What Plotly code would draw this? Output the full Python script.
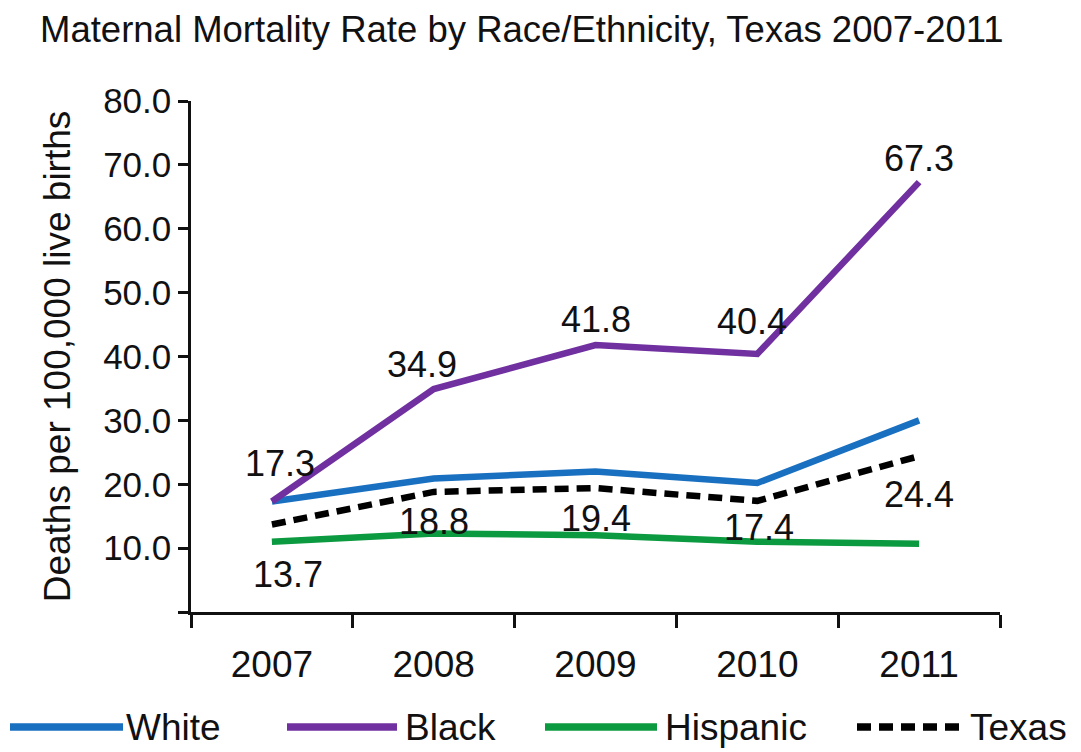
import plotly.graph_objects as go

years = ["2007", "2008", "2009", "2010", "2011"]
white = [17.3, 20.9, 22.0, 20.2, 30.0]
black = [17.3, 34.9, 41.8, 40.4, 67.3]
hispanic = [11.0, 12.3, 12.0, 11.0, 10.7]
texas = [13.7, 18.8, 19.4, 17.4, 24.4]
y_ticks = [0, 10, 20, 30, 40, 50, 60, 70, 80]
y_ticktext = ["", "10.0", "20.0", "30.0", "40.0", "50.0", "60.0", "70.0", "80.0"]

series_names = ["White", "Black", "Hispanic", "Texas"]
series_data = [white, black, hispanic, texas]
series_colors = ["#1a70c0", "#7030a0", "#0c9a40", "#000000"]
series_dash = ["solid", "solid", "solid", "14px,8px"]

FONT = "Liberation Sans, Arial, sans-serif"
xpos = list(range(len(years)))

# page has an 8px body margin; work in window pixels and offset
OFF = 8
W, H = 1081 - OFF, 752 - OFF

fig = go.Figure()
for name, data, color, dash in zip(series_names, series_data, series_colors, series_dash):
    fig.add_trace(go.Scatter(
        x=xpos, y=data, mode="lines", name=name,
        line=dict(color=color, width=6.5, dash=dash),
        showlegend=False,
    ))

# data labels
black_shift = [38, 25, 26, 32, 24]
black_xshift = [8, -12, 0, -5, 0]
texas_shift = [-50, -30, -30, -27, -38]
texas_xshift = [16, 0, 0, 2, 0]
annotations = []
for i, v in enumerate(black):
    annotations.append(dict(x=xpos[i], y=v, text=f"{v:.1f}", showarrow=False,
                            yshift=black_shift[i], xshift=black_xshift[i],
                            font=dict(family=FONT, size=36, color="#111111")))
for i, v in enumerate(texas):
    annotations.append(dict(x=xpos[i], y=v, text=f"{v:.1f}", showarrow=False,
                            yshift=texas_shift[i], xshift=texas_xshift[i],
                            font=dict(family=FONT, size=36, color="#111111")))

# plot area in window pixels: x 191..1000, y 101..612
ml, mt = 191 - OFF, 101 - OFF
mr = W - (1000 - OFF)
mb = H - (612 - OFF)
pw, ph = W - ml - mr, H - mt - mb

def px_to_paper_x(px):
    return (px - OFF - ml) / pw

def px_to_paper_y(py):
    return (H - mb - (py - OFF)) / ph

# custom legend (window pixel positions)
legend_line_x = [(10, 123), (287, 397), (545, 657), (857, 962)]
legend_text_x = [124, 403, 663, 968]
legend_y_px = 727
shapes = []
for (x0, x1), color, dash in zip(legend_line_x, series_colors, series_dash):
    shapes.append(dict(type="line", xref="paper", yref="paper",
                       x0=px_to_paper_x(x0), x1=px_to_paper_x(x1),
                       y0=px_to_paper_y(legend_y_px), y1=px_to_paper_y(legend_y_px),
                       line=dict(color=color, width=7.5,
                                 dash="14px,8px" if dash != "solid" else "solid")))
for name, tx in zip(series_names, legend_text_x):
    annotations.append(dict(xref="paper", yref="paper", x=px_to_paper_x(tx),
                            y=px_to_paper_y(legend_y_px), xanchor="left", yanchor="middle",
                            text=name, showarrow=False,
                            font=dict(family=FONT, size=37, color="#111111")))

fig.update_layout(
    width=W, height=H,
    margin=dict(l=ml, r=mr, t=mt, b=mb, autoexpand=False),
    paper_bgcolor="white", plot_bgcolor="white",
    title=dict(text="Maternal Mortality Rate by Race/Ethnicity, Texas 2007-2011",
               x=(40 - OFF) / W, xanchor="left", xref="container",
               y=1 - 21 / H, yanchor="middle", yref="container",
               font=dict(family=FONT, size=36.5, color="#111111")),
    annotations=annotations,
    shapes=shapes,
    font=dict(family=FONT, color="#111111"),
)
fig.update_xaxes(
    range=[-0.5, len(years) - 0.5], tickmode="array", tickvals=xpos, ticktext=years,
    ticks="", showline=True, linecolor="#111111", linewidth=2.5,
    showgrid=False, zeroline=False, ticklabelstandoff=18,
    minor=dict(tickmode="array", tickvals=[i - 0.5 for i in range(len(years) + 1)],
               ticks="outside", ticklen=13, tickwidth=2.5, tickcolor="#111111", showgrid=False),
    tickfont=dict(family=FONT, size=37, color="#111111"),
)
fig.update_yaxes(
    range=[0, 80], tickmode="array", tickvals=y_ticks, ticktext=y_ticktext,
    ticks="outside", ticklen=10, tickwidth=2.5, tickcolor="#111111",
    showline=True, linecolor="#111111", linewidth=2.5, showgrid=False, zeroline=False,
    tickfont=dict(family=FONT, size=35, color="#111111"),
    title=dict(text="Deaths per 100,000 live births", standoff=22,
               font=dict(family=FONT, size=37, color="#111111")),
)

fig.write_html("out.html")
